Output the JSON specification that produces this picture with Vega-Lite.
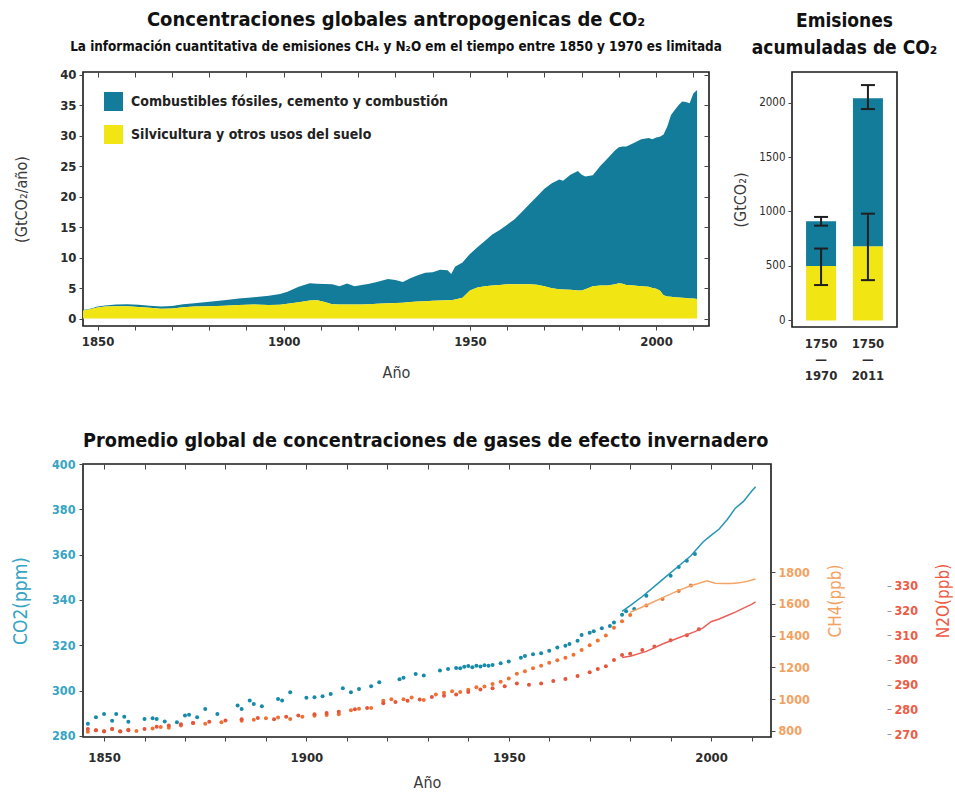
{
  "$schema": "https://vega.github.io/schema/vega-lite/v6.json",
  "padding": {"left": 10, "top": 9, "right": 0, "bottom": 0},
  "config": {
    "font": "DejaVu Sans Condensed, sans-serif",
    "view": {"stroke": "#1a1a1a", "strokeWidth": 1.6},
    "axis": {"grid": false, "domain": false, "labelFontSize": 13, "labelFontWeight": "bold", "labelColor": "#2b2b2b", "titleFontSize": 16, "titleFontWeight": "normal", "titleColor": "#3a3a3a", "tickColor": "#444", "tickSize": 4, "labelPadding": 3},
    "title": {"fontWeight": "bold", "color": "#111"}
  },
  "datasets": {
    "emisiones": [
      {"anio": 1845, "suelo": 1.2, "fosiles": 0.05},
      {"anio": 1848, "suelo": 1.5, "fosiles": 0.1},
      {"anio": 1850, "suelo": 1.8, "fosiles": 0.15},
      {"anio": 1852, "suelo": 1.95, "fosiles": 0.2},
      {"anio": 1855, "suelo": 2.0, "fosiles": 0.3},
      {"anio": 1858, "suelo": 2.0, "fosiles": 0.35},
      {"anio": 1861, "suelo": 1.9, "fosiles": 0.35},
      {"anio": 1864, "suelo": 1.75, "fosiles": 0.35},
      {"anio": 1867, "suelo": 1.6, "fosiles": 0.35},
      {"anio": 1870, "suelo": 1.65, "fosiles": 0.4},
      {"anio": 1873, "suelo": 1.85, "fosiles": 0.5},
      {"anio": 1876, "suelo": 1.95, "fosiles": 0.55},
      {"anio": 1880, "suelo": 2.0, "fosiles": 0.75},
      {"anio": 1884, "suelo": 2.1, "fosiles": 0.9},
      {"anio": 1888, "suelo": 2.2, "fosiles": 1.1},
      {"anio": 1892, "suelo": 2.3, "fosiles": 1.2},
      {"anio": 1896, "suelo": 2.2, "fosiles": 1.55},
      {"anio": 1899, "suelo": 2.25, "fosiles": 1.75},
      {"anio": 1901, "suelo": 2.4, "fosiles": 2.0},
      {"anio": 1904, "suelo": 2.65, "fosiles": 2.55},
      {"anio": 1907, "suelo": 2.95, "fosiles": 2.85},
      {"anio": 1909, "suelo": 3.0, "fosiles": 2.7},
      {"anio": 1911, "suelo": 2.7, "fosiles": 2.95},
      {"anio": 1913, "suelo": 2.35, "fosiles": 3.25},
      {"anio": 1915, "suelo": 2.3, "fosiles": 3.0},
      {"anio": 1917, "suelo": 2.3, "fosiles": 3.45},
      {"anio": 1919, "suelo": 2.3, "fosiles": 3.0},
      {"anio": 1921, "suelo": 2.3, "fosiles": 3.2},
      {"anio": 1923, "suelo": 2.35, "fosiles": 3.35},
      {"anio": 1925, "suelo": 2.4, "fosiles": 3.6},
      {"anio": 1928, "suelo": 2.5, "fosiles": 4.0},
      {"anio": 1930, "suelo": 2.55, "fosiles": 3.75},
      {"anio": 1932, "suelo": 2.6, "fosiles": 3.4},
      {"anio": 1934, "suelo": 2.7, "fosiles": 3.9},
      {"anio": 1936, "suelo": 2.8, "fosiles": 4.3},
      {"anio": 1938, "suelo": 2.85, "fosiles": 4.65},
      {"anio": 1940, "suelo": 2.9, "fosiles": 4.7},
      {"anio": 1942, "suelo": 2.95, "fosiles": 5.05},
      {"anio": 1944, "suelo": 3.0, "fosiles": 4.9},
      {"anio": 1945, "suelo": 3.0, "fosiles": 4.3},
      {"anio": 1946, "suelo": 3.1, "fosiles": 5.4},
      {"anio": 1948, "suelo": 3.4, "fosiles": 5.8},
      {"anio": 1950, "suelo": 4.6, "fosiles": 6.0},
      {"anio": 1952, "suelo": 5.1, "fosiles": 6.6},
      {"anio": 1954, "suelo": 5.3, "fosiles": 7.4},
      {"anio": 1956, "suelo": 5.4, "fosiles": 8.4},
      {"anio": 1958, "suelo": 5.5, "fosiles": 9.0},
      {"anio": 1960, "suelo": 5.6, "fosiles": 9.8},
      {"anio": 1962, "suelo": 5.6, "fosiles": 10.7},
      {"anio": 1964, "suelo": 5.6, "fosiles": 11.9},
      {"anio": 1966, "suelo": 5.6, "fosiles": 13.2},
      {"anio": 1968, "suelo": 5.55, "fosiles": 14.45},
      {"anio": 1970, "suelo": 5.3, "fosiles": 16.0},
      {"anio": 1972, "suelo": 4.95, "fosiles": 17.25},
      {"anio": 1974, "suelo": 4.8, "fosiles": 18.0},
      {"anio": 1975, "suelo": 4.75, "fosiles": 17.85},
      {"anio": 1977, "suelo": 4.7, "fosiles": 18.9},
      {"anio": 1979, "suelo": 4.6, "fosiles": 19.6},
      {"anio": 1980, "suelo": 4.6, "fosiles": 19.0},
      {"anio": 1981, "suelo": 4.8, "fosiles": 18.5},
      {"anio": 1983, "suelo": 5.3, "fosiles": 18.2},
      {"anio": 1985, "suelo": 5.4, "fosiles": 19.6},
      {"anio": 1987, "suelo": 5.4, "fosiles": 20.9},
      {"anio": 1989, "suelo": 5.6, "fosiles": 22.0},
      {"anio": 1990, "suelo": 5.8, "fosiles": 22.3},
      {"anio": 1991, "suelo": 5.7, "fosiles": 22.5},
      {"anio": 1992, "suelo": 5.5, "fosiles": 22.7},
      {"anio": 1994, "suelo": 5.4, "fosiles": 23.4},
      {"anio": 1996, "suelo": 5.3, "fosiles": 24.1},
      {"anio": 1998, "suelo": 5.2, "fosiles": 24.4},
      {"anio": 1999, "suelo": 5.0, "fosiles": 24.4},
      {"anio": 2000, "suelo": 4.9, "fosiles": 24.8},
      {"anio": 2001, "suelo": 4.6, "fosiles": 25.2},
      {"anio": 2002, "suelo": 3.8, "fosiles": 26.4},
      {"anio": 2003, "suelo": 3.6, "fosiles": 27.9},
      {"anio": 2004, "suelo": 3.55, "fosiles": 29.85},
      {"anio": 2005, "suelo": 3.5, "fosiles": 30.7},
      {"anio": 2006, "suelo": 3.45, "fosiles": 31.55},
      {"anio": 2007, "suelo": 3.4, "fosiles": 32.2},
      {"anio": 2008, "suelo": 3.35, "fosiles": 32.15},
      {"anio": 2009, "suelo": 3.3, "fosiles": 32.0},
      {"anio": 2010, "suelo": 3.3, "fosiles": 33.6},
      {"anio": 2011, "suelo": 3.2, "fosiles": 34.3}
    ],
    "acumuladas": [
      {"periodo": "1750–1970", "componente": "suelo", "valor": 500},
      {"periodo": "1750–1970", "componente": "fosiles", "valor": 410},
      {"periodo": "1750–2011", "componente": "suelo", "valor": 680},
      {"periodo": "1750–2011", "componente": "fosiles", "valor": 1360}
    ],
    "errores": [
      {"periodo": "1750–1970", "bajo": 870, "alto": 950},
      {"periodo": "1750–1970", "bajo": 325, "alto": 660},
      {"periodo": "1750–2011", "bajo": 1940, "alto": 2160},
      {"periodo": "1750–2011", "bajo": 370, "alto": 980}
    ],
    "co2": [
      {"anio": 1846, "valor": 285.3, "serie": "hielo"},
      {"anio": 1848, "valor": 288.2, "serie": "hielo"},
      {"anio": 1850, "valor": 289.7, "serie": "hielo"},
      {"anio": 1852, "valor": 286.7, "serie": "hielo"},
      {"anio": 1853, "valor": 289.7, "serie": "hielo"},
      {"anio": 1855, "valor": 288.4, "serie": "hielo"},
      {"anio": 1856, "valor": 286.2, "serie": "hielo"},
      {"anio": 1860, "valor": 287.5, "serie": "hielo"},
      {"anio": 1862, "valor": 287.8, "serie": "hielo"},
      {"anio": 1863, "valor": 287.5, "serie": "hielo"},
      {"anio": 1865, "valor": 286.3, "serie": "hielo"},
      {"anio": 1868, "valor": 286.0, "serie": "hielo"},
      {"anio": 1870, "valor": 289.0, "serie": "hielo"},
      {"anio": 1871, "valor": 289.3, "serie": "hielo"},
      {"anio": 1873, "valor": 288.2, "serie": "hielo"},
      {"anio": 1875, "valor": 291.9, "serie": "hielo"},
      {"anio": 1878, "valor": 289.7, "serie": "hielo"},
      {"anio": 1883, "valor": 293.4, "serie": "hielo"},
      {"anio": 1884, "valor": 291.9, "serie": "hielo"},
      {"anio": 1886, "valor": 295.6, "serie": "hielo"},
      {"anio": 1887, "valor": 294.1, "serie": "hielo"},
      {"anio": 1889, "valor": 293.1, "serie": "hielo"},
      {"anio": 1893, "valor": 296.3, "serie": "hielo"},
      {"anio": 1894, "valor": 295.6, "serie": "hielo"},
      {"anio": 1896, "valor": 299.3, "serie": "hielo"},
      {"anio": 1900, "valor": 296.8, "serie": "hielo"},
      {"anio": 1902, "valor": 297.0, "serie": "hielo"},
      {"anio": 1904, "valor": 297.5, "serie": "hielo"},
      {"anio": 1906, "valor": 298.5, "serie": "hielo"},
      {"anio": 1909, "valor": 301.0, "serie": "hielo"},
      {"anio": 1911, "valor": 299.3, "serie": "hielo"},
      {"anio": 1913, "valor": 300.7, "serie": "hielo"},
      {"anio": 1916, "valor": 301.9, "serie": "hielo"},
      {"anio": 1918, "valor": 303.7, "serie": "hielo"},
      {"anio": 1923, "valor": 305.0, "serie": "hielo"},
      {"anio": 1924, "valor": 305.6, "serie": "hielo"},
      {"anio": 1927, "valor": 307.3, "serie": "hielo"},
      {"anio": 1929, "valor": 306.6, "serie": "hielo"},
      {"anio": 1933, "valor": 308.8, "serie": "hielo"},
      {"anio": 1935, "valor": 309.5, "serie": "hielo"},
      {"anio": 1937, "valor": 310.0, "serie": "hielo"},
      {"anio": 1938, "valor": 309.8, "serie": "hielo"},
      {"anio": 1939, "valor": 310.5, "serie": "hielo"},
      {"anio": 1940, "valor": 310.8, "serie": "hielo"},
      {"anio": 1941, "valor": 310.3, "serie": "hielo"},
      {"anio": 1942, "valor": 311.0, "serie": "hielo"},
      {"anio": 1943, "valor": 310.6, "serie": "hielo"},
      {"anio": 1944, "valor": 311.2, "serie": "hielo"},
      {"anio": 1945, "valor": 310.9, "serie": "hielo"},
      {"anio": 1946, "valor": 311.3, "serie": "hielo"},
      {"anio": 1948, "valor": 312.0, "serie": "hielo"},
      {"anio": 1950, "valor": 312.8, "serie": "hielo"},
      {"anio": 1953, "valor": 314.5, "serie": "hielo"},
      {"anio": 1954, "valor": 315.2, "serie": "hielo"},
      {"anio": 1956, "valor": 316.0, "serie": "hielo"},
      {"anio": 1958, "valor": 316.5, "serie": "hielo"},
      {"anio": 1960, "valor": 317.6, "serie": "hielo"},
      {"anio": 1962, "valor": 319.0, "serie": "hielo"},
      {"anio": 1964, "valor": 319.8, "serie": "hielo"},
      {"anio": 1965, "valor": 320.5, "serie": "hielo"},
      {"anio": 1967, "valor": 322.0, "serie": "hielo"},
      {"anio": 1968, "valor": 324.5, "serie": "hielo"},
      {"anio": 1970, "valor": 325.5, "serie": "hielo"},
      {"anio": 1971, "valor": 326.2, "serie": "hielo"},
      {"anio": 1973, "valor": 327.5, "serie": "hielo"},
      {"anio": 1975, "valor": 328.5, "serie": "hielo"},
      {"anio": 1976, "valor": 330.0, "serie": "hielo"},
      {"anio": 1978, "valor": 333.5, "serie": "hielo"},
      {"anio": 1979, "valor": 335.0, "serie": "hielo"},
      {"anio": 1981, "valor": 336.0, "serie": "hielo"},
      {"anio": 1984, "valor": 341.8, "serie": "hielo"},
      {"anio": 1990, "valor": 350.7, "serie": "hielo"},
      {"anio": 1992, "valor": 354.5, "serie": "hielo"},
      {"anio": 1994, "valor": 357.3, "serie": "hielo"},
      {"anio": 1996, "valor": 360.3, "serie": "hielo"},
      {"anio": 1978, "valor": 335.0, "serie": "atmos"},
      {"anio": 1980, "valor": 337.5, "serie": "atmos"},
      {"anio": 1983, "valor": 341.5, "serie": "atmos"},
      {"anio": 1986, "valor": 346.0, "serie": "atmos"},
      {"anio": 1989, "valor": 350.5, "serie": "atmos"},
      {"anio": 1992, "valor": 355.0, "serie": "atmos"},
      {"anio": 1995, "valor": 359.5, "serie": "atmos"},
      {"anio": 1998, "valor": 365.6, "serie": "atmos"},
      {"anio": 2000, "valor": 368.5, "serie": "atmos"},
      {"anio": 2002, "valor": 371.3, "serie": "atmos"},
      {"anio": 2004, "valor": 375.5, "serie": "atmos"},
      {"anio": 2006, "valor": 380.5, "serie": "atmos"},
      {"anio": 2008, "valor": 383.5, "serie": "atmos"},
      {"anio": 2010, "valor": 388.0, "serie": "atmos"},
      {"anio": 2011, "valor": 390.0, "serie": "atmos"}
    ],
    "ch4": [
      {"anio": 1846, "valor": 795, "serie": "hielo"},
      {"anio": 1848, "valor": 805, "serie": "hielo"},
      {"anio": 1850, "valor": 800, "serie": "hielo"},
      {"anio": 1852, "valor": 812, "serie": "hielo"},
      {"anio": 1854, "valor": 798, "serie": "hielo"},
      {"anio": 1856, "valor": 808, "serie": "hielo"},
      {"anio": 1858, "valor": 800, "serie": "hielo"},
      {"anio": 1862, "valor": 815, "serie": "hielo"},
      {"anio": 1864, "valor": 825, "serie": "hielo"},
      {"anio": 1866, "valor": 820, "serie": "hielo"},
      {"anio": 1869, "valor": 835, "serie": "hielo"},
      {"anio": 1872, "valor": 850, "serie": "hielo"},
      {"anio": 1875, "valor": 845, "serie": "hielo"},
      {"anio": 1879, "valor": 855, "serie": "hielo"},
      {"anio": 1884, "valor": 865, "serie": "hielo"},
      {"anio": 1887, "valor": 870, "serie": "hielo"},
      {"anio": 1890, "valor": 880, "serie": "hielo"},
      {"anio": 1893, "valor": 885, "serie": "hielo"},
      {"anio": 1896, "valor": 875, "serie": "hielo"},
      {"anio": 1899, "valor": 890, "serie": "hielo"},
      {"anio": 1902, "valor": 895, "serie": "hielo"},
      {"anio": 1905, "valor": 900, "serie": "hielo"},
      {"anio": 1908, "valor": 905, "serie": "hielo"},
      {"anio": 1911, "valor": 930, "serie": "hielo"},
      {"anio": 1913, "valor": 940, "serie": "hielo"},
      {"anio": 1916, "valor": 945, "serie": "hielo"},
      {"anio": 1919, "valor": 990, "serie": "hielo"},
      {"anio": 1921, "valor": 1000, "serie": "hielo"},
      {"anio": 1924, "valor": 1000, "serie": "hielo"},
      {"anio": 1926, "valor": 1010, "serie": "hielo"},
      {"anio": 1929, "valor": 995, "serie": "hielo"},
      {"anio": 1932, "valor": 1030, "serie": "hielo"},
      {"anio": 1934, "valor": 1040, "serie": "hielo"},
      {"anio": 1936, "valor": 1050, "serie": "hielo"},
      {"anio": 1938, "valor": 1045, "serie": "hielo"},
      {"anio": 1940, "valor": 1060, "serie": "hielo"},
      {"anio": 1942, "valor": 1075, "serie": "hielo"},
      {"anio": 1944, "valor": 1080, "serie": "hielo"},
      {"anio": 1946, "valor": 1095, "serie": "hielo"},
      {"anio": 1948, "valor": 1110, "serie": "hielo"},
      {"anio": 1950, "valor": 1130, "serie": "hielo"},
      {"anio": 1952, "valor": 1160, "serie": "hielo"},
      {"anio": 1954, "valor": 1175, "serie": "hielo"},
      {"anio": 1956, "valor": 1195, "serie": "hielo"},
      {"anio": 1958, "valor": 1210, "serie": "hielo"},
      {"anio": 1960, "valor": 1230, "serie": "hielo"},
      {"anio": 1962, "valor": 1245, "serie": "hielo"},
      {"anio": 1964, "valor": 1260, "serie": "hielo"},
      {"anio": 1966, "valor": 1280, "serie": "hielo"},
      {"anio": 1968, "valor": 1310, "serie": "hielo"},
      {"anio": 1970, "valor": 1340, "serie": "hielo"},
      {"anio": 1972, "valor": 1370, "serie": "hielo"},
      {"anio": 1974, "valor": 1400, "serie": "hielo"},
      {"anio": 1976, "valor": 1450, "serie": "hielo"},
      {"anio": 1978, "valor": 1490, "serie": "hielo"},
      {"anio": 1980, "valor": 1530, "serie": "hielo"},
      {"anio": 1984, "valor": 1590, "serie": "hielo"},
      {"anio": 1988, "valor": 1630, "serie": "hielo"},
      {"anio": 1992, "valor": 1680, "serie": "hielo"},
      {"anio": 1995, "valor": 1715, "serie": "hielo"},
      {"anio": 1980, "valor": 1546, "serie": "atmos"},
      {"anio": 1983, "valor": 1580, "serie": "atmos"},
      {"anio": 1986, "valor": 1615, "serie": "atmos"},
      {"anio": 1989, "valor": 1650, "serie": "atmos"},
      {"anio": 1992, "valor": 1685, "serie": "atmos"},
      {"anio": 1995, "valor": 1714, "serie": "atmos"},
      {"anio": 1999, "valor": 1745, "serie": "atmos"},
      {"anio": 2001, "valor": 1730, "serie": "atmos"},
      {"anio": 2003, "valor": 1728, "serie": "atmos"},
      {"anio": 2005, "valor": 1728, "serie": "atmos"},
      {"anio": 2007, "valor": 1732, "serie": "atmos"},
      {"anio": 2009, "valor": 1742, "serie": "atmos"},
      {"anio": 2011, "valor": 1756, "serie": "atmos"}
    ],
    "n2o": [
      {"anio": 1846, "valor": 272.0, "serie": "hielo"},
      {"anio": 1848, "valor": 271.5, "serie": "hielo"},
      {"anio": 1850, "valor": 271.0, "serie": "hielo"},
      {"anio": 1852, "valor": 272.0, "serie": "hielo"},
      {"anio": 1854, "valor": 271.0, "serie": "hielo"},
      {"anio": 1856, "valor": 271.5, "serie": "hielo"},
      {"anio": 1860, "valor": 272.0, "serie": "hielo"},
      {"anio": 1863, "valor": 273.0, "serie": "hielo"},
      {"anio": 1866, "valor": 273.5, "serie": "hielo"},
      {"anio": 1869, "valor": 274.0, "serie": "hielo"},
      {"anio": 1872, "valor": 274.5, "serie": "hielo"},
      {"anio": 1876, "valor": 275.0, "serie": "hielo"},
      {"anio": 1880, "valor": 275.5, "serie": "hielo"},
      {"anio": 1884, "valor": 276.0, "serie": "hielo"},
      {"anio": 1888, "valor": 276.5, "serie": "hielo"},
      {"anio": 1892, "valor": 276.0, "serie": "hielo"},
      {"anio": 1895, "valor": 277.0, "serie": "hielo"},
      {"anio": 1898, "valor": 277.5, "serie": "hielo"},
      {"anio": 1902, "valor": 278.0, "serie": "hielo"},
      {"anio": 1905, "valor": 278.5, "serie": "hielo"},
      {"anio": 1908, "valor": 279.0, "serie": "hielo"},
      {"anio": 1912, "valor": 280.0, "serie": "hielo"},
      {"anio": 1915, "valor": 280.5, "serie": "hielo"},
      {"anio": 1919, "valor": 282.5, "serie": "hielo"},
      {"anio": 1922, "valor": 283.0, "serie": "hielo"},
      {"anio": 1925, "valor": 283.5, "serie": "hielo"},
      {"anio": 1928, "valor": 284.0, "serie": "hielo"},
      {"anio": 1931, "valor": 285.0, "serie": "hielo"},
      {"anio": 1934, "valor": 285.5, "serie": "hielo"},
      {"anio": 1937, "valor": 286.0, "serie": "hielo"},
      {"anio": 1940, "valor": 287.0, "serie": "hielo"},
      {"anio": 1943, "valor": 288.0, "serie": "hielo"},
      {"anio": 1946, "valor": 288.5, "serie": "hielo"},
      {"anio": 1949, "valor": 289.4, "serie": "hielo"},
      {"anio": 1952, "valor": 290.5, "serie": "hielo"},
      {"anio": 1955, "valor": 290.0, "serie": "hielo"},
      {"anio": 1958, "valor": 290.5, "serie": "hielo"},
      {"anio": 1961, "valor": 291.5, "serie": "hielo"},
      {"anio": 1964, "valor": 292.3, "serie": "hielo"},
      {"anio": 1967, "valor": 293.5, "serie": "hielo"},
      {"anio": 1970, "valor": 295.0, "serie": "hielo"},
      {"anio": 1972, "valor": 296.3, "serie": "hielo"},
      {"anio": 1974, "valor": 297.5, "serie": "hielo"},
      {"anio": 1976, "valor": 300.0, "serie": "hielo"},
      {"anio": 1978, "valor": 302.0, "serie": "hielo"},
      {"anio": 1980, "valor": 302.5, "serie": "hielo"},
      {"anio": 1983, "valor": 304.0, "serie": "hielo"},
      {"anio": 1986, "valor": 305.5, "serie": "hielo"},
      {"anio": 1990, "valor": 308.0, "serie": "hielo"},
      {"anio": 1994, "valor": 310.0, "serie": "hielo"},
      {"anio": 1997, "valor": 312.5, "serie": "hielo"},
      {"anio": 1978, "valor": 301.0, "serie": "atmos"},
      {"anio": 1980, "valor": 301.5, "serie": "atmos"},
      {"anio": 1984, "valor": 303.5, "serie": "atmos"},
      {"anio": 1988, "valor": 306.5, "serie": "atmos"},
      {"anio": 1992, "valor": 309.0, "serie": "atmos"},
      {"anio": 1996, "valor": 311.5, "serie": "atmos"},
      {"anio": 1998, "valor": 313.0, "serie": "atmos"},
      {"anio": 2000, "valor": 315.5, "serie": "atmos"},
      {"anio": 2002, "valor": 316.6, "serie": "atmos"},
      {"anio": 2004, "valor": 318.0, "serie": "atmos"},
      {"anio": 2006, "valor": 319.4, "serie": "atmos"},
      {"anio": 2008, "valor": 321.0, "serie": "atmos"},
      {"anio": 2010, "valor": 322.5, "serie": "atmos"},
      {"anio": 2011, "valor": 323.5, "serie": "atmos"}
    ]
  },
  "vconcat": [
    {
      "hconcat": [
        {
          "width": 626,
          "height": 254,
          "title": {"text": "Concentraciones globales antropogenicas de CO₂", "subtitle": "La información cuantitativa de emisiones CH₄ y N₂O em el tiempo entre 1850 y 1970 es limitada", "fontSize": 20, "subtitleFontSize": 13.4, "subtitleFontWeight": "bold", "subtitleColor": "#111", "subtitlePadding": 10, "offset": 15, "anchor": "middle"},
          "data": {"name": "emisiones"},
          "transform": [{"fold": ["fosiles", "suelo"], "as": ["fuente", "valor"]}],
          "layer": [
            {
              "mark": {"type": "area", "opacity": 1, "clip": true},
              "encoding": {
                "x": {"field": "anio", "type": "quantitative", "scale": {"domain": [1846.1, 2014.2], "nice": false, "zero": false}, "axis": {"values": [1850, 1860, 1870, 1880, 1890, 1900, 1910, 1920, 1930, 1940, 1950, 1960, 1970, 1980, 1990, 2000, 2010], "format": "d", "labelExpr": "datum.value % 50 === 0 ? datum.label : ''", "title": "Año", "titlePadding": 16, "labelPadding": 5}},
                "y": {"field": "valor", "type": "quantitative", "stack": "zero", "scale": {"domain": [-1.23, 40.44], "nice": false}, "axis": {"values": [0, 5, 10, 15, 20, 25, 30, 35, 40], "title": "(GtCO₂/año)", "titlePadding": 30}},
                "color": {"field": "fuente", "type": "nominal", "scale": {"domain": ["fosiles", "suelo"], "range": ["#127c9a", "#f1e614"]}, "legend": {"orient": "none", "legendX": 21, "legendY": 20, "title": null, "symbolType": "square", "symbolSize": 361, "symbolStrokeWidth": 0, "symbolOpacity": 1, "labelFontSize": 14, "labelFontWeight": "bold", "labelColor": "#222", "labelOffset": 8, "labelLimit": 500, "rowPadding": 14, "labelExpr": "datum.label === 'fosiles' ? 'Combustibles fósiles, cemento y combustión' : 'Silvicultura y otros usos del suelo'"}},
                "order": {"field": "fuente", "sort": "descending"}
              }
            },
            {
              "mark": {"type": "point", "opacity": 0},
              "encoding": {
                "x": {"field": "anio", "type": "quantitative", "scale": {"domain": [1846.1, 2014.2], "nice": false, "zero": false}, "axis": {"orient": "top", "values": [1850, 1860, 1870, 1880, 1890, 1900, 1910, 1920, 1930, 1940, 1950, 1960, 1970, 1980, 1990, 2000, 2010], "labels": false, "title": null, "tickSize": 5, "offset": -5}},
                "y": {"field": "valor", "type": "quantitative", "scale": {"domain": [-1.23, 40.44], "nice": false}, "axis": {"orient": "right", "values": [0, 5, 10, 15, 20, 25, 30, 35, 40], "labels": false, "title": null, "tickSize": 5, "offset": -5}}
              }
            }
          ],
          "resolve": {"axis": {"x": "independent", "y": "independent"}}
        },
        {
          "width": 105,
          "height": 255,
          "title": {"text": ["Emisiones", "acumuladas de CO₂"], "fontSize": 19, "lineHeight": 27, "anchor": "middle", "offset": 14},
          "layer": [
            {
              "data": {"name": "acumuladas"},
              "mark": {"type": "bar"},
              "encoding": {
                "x": {"field": "periodo", "type": "nominal", "scale": {"paddingInner": 0.36, "paddingOuter": 0.3}, "axis": {"title": null, "labelExpr": "[slice(datum.label,0,4), '—', slice(datum.label,5)]", "labelAngle": 0, "ticks": false, "labelPadding": 10, "labelLineHeight": 16}},
                "y": {"field": "valor", "type": "quantitative", "stack": "zero", "scale": {"domain": [-60, 2280], "nice": false}, "axis": {"values": [0, 500, 1000, 1500, 2000], "format": "d", "title": "(GtCO₂)", "labelFontSize": 11.5, "labelFontWeight": "normal", "titlePadding": 10}},
                "detail": {"field": "componente"},
                "order": {"field": "componente", "sort": "descending"},
                "color": {"condition": {"test": "datum.componente === 'suelo'", "value": "#f1e614"}, "value": "#127c9a"}
              }
            },
            {
              "data": {"name": "errores"},
              "mark": {"type": "rule", "color": "#1f1f1f", "strokeWidth": 2},
              "encoding": {"x": {"field": "periodo", "type": "nominal"}, "y": {"field": "bajo", "type": "quantitative", "title": "(GtCO₂)"}, "y2": {"field": "alto"}}
            },
            {
              "data": {"name": "errores"},
              "mark": {"type": "tick", "color": "#1f1f1f", "thickness": 2, "size": 14, "opacity": 1},
              "encoding": {"x": {"field": "periodo", "type": "nominal"}, "y": {"field": "bajo", "type": "quantitative", "title": "(GtCO₂)"}}
            },
            {
              "data": {"name": "errores"},
              "mark": {"type": "tick", "color": "#1f1f1f", "thickness": 2, "size": 14, "opacity": 1},
              "encoding": {"x": {"field": "periodo", "type": "nominal"}, "y": {"field": "alto", "type": "quantitative", "title": "(GtCO₂)"}}
            }
          ]
        }
      ],
      "spacing": 8
    },
    {
      "width": 688,
      "height": 273,
      "title": {"text": "Promedio global de concentraciones de gases de efecto invernadero", "fontSize": 19.7, "anchor": "start", "frame": "group", "offset": 7},
      "layer": [
        {
          "data": {"name": "co2"},
          "layer": [
            {
              "transform": [{"filter": "datum.serie === 'hielo'"}],
              "mark": {"type": "circle", "size": 16, "opacity": 1, "color": "#168aa8"},
              "encoding": {
                "x": {"field": "anio", "type": "quantitative", "scale": {"domain": [1844.8, 2014.8], "nice": false, "zero": false}, "axis": {"values": [1850, 1860, 1870, 1880, 1890, 1900, 1910, 1920, 1930, 1940, 1950, 1960, 1970, 1980, 1990, 2000, 2010], "format": "d", "labelExpr": "datum.value % 50 === 0 ? datum.label : ''", "title": "Año", "titlePadding": 10, "labelPadding": 10}},
                "y": {"field": "valor", "type": "quantitative", "scale": {"domain": [279.5, 400], "nice": false, "zero": false}, "axis": {"values": [280, 300, 320, 340, 360, 380, 400], "title": "CO2(ppm)", "labelColor": "#36a4c3", "titleColor": "#36a4c3", "titleFontSize": 19, "labelFontSize": 12.5, "titlePadding": 21, "labelPadding": 4}}
              }
            },
            {
              "transform": [{"filter": "datum.serie === 'atmos'"}],
              "mark": {"type": "line", "color": "#2596b5", "strokeWidth": 1.5},
              "encoding": {
                "x": {"field": "anio", "type": "quantitative"},
                "y": {"field": "valor", "type": "quantitative", "title": "CO2(ppm)"}
              }
            }
          ]
        },
        {
          "data": {"name": "ch4"},
          "layer": [
            {
              "transform": [{"filter": "datum.serie === 'hielo'"}],
              "mark": {"type": "circle", "size": 16, "opacity": 1, "color": "#ef7232"},
              "encoding": {
                "x": {"field": "anio", "type": "quantitative", "scale": {"domain": [1844.8, 2014.8], "nice": false, "zero": false}, "axis": {"orient": "top", "values": [1850, 1860, 1870, 1880, 1890, 1900, 1910, 1920, 1930, 1940, 1950, 1960, 1970, 1980, 1990, 2000, 2010], "labels": false, "title": null, "tickSize": 5, "offset": -5}},
                "y": {"field": "valor", "type": "quantitative", "scale": {"domain": [762, 2480], "nice": false, "zero": false}, "axis": {"orient": "right", "values": [800, 1000, 1200, 1400, 1600, 1800], "format": "d", "title": "CH4(ppb)", "titleAngle": 270, "titleBaseline": "top", "labelColor": "#f4a15f", "titleColor": "#f4a15f", "titleFontSize": 17, "labelFontSize": 12.5, "titlePadding": 18}}
              }
            },
            {
              "transform": [{"filter": "datum.serie === 'atmos'"}],
              "mark": {"type": "line", "color": "#f5a56b", "strokeWidth": 1.5},
              "encoding": {
                "x": {"field": "anio", "type": "quantitative"},
                "y": {"field": "valor", "type": "quantitative", "title": "CH4(ppb)"}
              }
            }
          ]
        },
        {
          "data": {"name": "n2o"},
          "layer": [
            {
              "transform": [{"filter": "datum.serie === 'hielo'"}],
              "mark": {"type": "circle", "size": 16, "opacity": 1, "color": "#e4553a"},
              "encoding": {
                "x": {"field": "anio", "type": "quantitative", "scale": {"domain": [1844.8, 2014.8], "nice": false, "zero": false}, "axis": null},
                "y": {"field": "valor", "type": "quantitative", "scale": {"domain": [268.8, 379.4], "nice": false, "zero": false}, "axis": {"orient": "right", "offset": 116, "values": [270, 280, 290, 300, 310, 320, 330], "format": "d", "title": "N2O(ppb)", "titleAngle": 270, "titleBaseline": "top", "labelColor": "#ee5a44", "titleColor": "#ee5a44", "titleFontSize": 17, "labelFontSize": 12.5, "titlePadding": 18, "tickColor": "#999"}}
              }
            },
            {
              "transform": [{"filter": "datum.serie === 'atmos'"}],
              "mark": {"type": "line", "color": "#e8605a", "strokeWidth": 1.5},
              "encoding": {
                "x": {"field": "anio", "type": "quantitative"},
                "y": {"field": "valor", "type": "quantitative", "title": "N2O(ppb)"}
              }
            }
          ]
        }
      ],
      "resolve": {"scale": {"y": "independent"}, "axis": {"y": "independent", "x": "independent"}}
    }
  ],
  "spacing": 47
}
